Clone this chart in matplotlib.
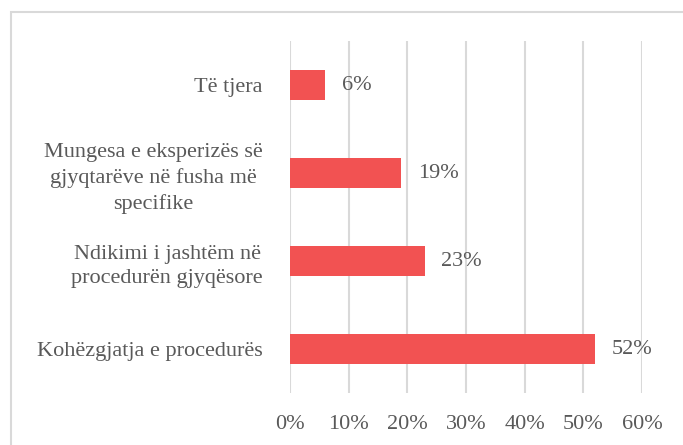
import matplotlib.pyplot as plt
from matplotlib.patches import Rectangle

# Datos del gráfico (de abajo hacia arriba)
categorias = ['Kohëzgjatja e procedurës',
              'Ndikimi i jashtëm në\nprocedurën gjyqësore',
              'Mungesa e eksperizës së\ngjyqtarëve në fusha më\nspecifike',
              'Të tjera']
valores = [0.52, 0.23, 0.19, 0.06]
etiquetas = ['52%', '23%', '19%', '6%']
ticks_x = [0, 0.1, 0.2, 0.3, 0.4, 0.5, 0.6]
ticks_lbl = ['0%', '10%', '20%', '30%', '40%', '50%', '60%']

plt.rcParams['font.family'] = ['Liberation Serif', 'DejaVu Serif']
gris = '#595959'
fs = 16

fig = plt.figure(figsize=(6.83, 4.45), dpi=100)
ax = fig.add_axes([290 / 683, 1 - 393 / 445, 352 / 683, 352 / 445])

# Borde del gráfico (solo visible arriba e izquierda)
fig.patches.append(Rectangle((11 / 683, -0.1), 1.2, 1 - 12 / 445 + 0.1,
                             transform=fig.transFigure, fill=False,
                             edgecolor='#D9D9D9', linewidth=1.5))

y = range(len(categorias))
ax.barh(y, valores, height=0.35, color='#F25252', zorder=3)
for i, (v, t) in enumerate(zip(valores, etiquetas)):
    ax.text(v + 0.028, i, t, va='center', ha='left', fontsize=fs, color=gris)

ax.set_xlim(0, 0.6)
ax.set_ylim(-0.5, 3.5)
ax.set_xticks(ticks_x)
ax.set_xticklabels(ticks_lbl, fontsize=fs, color=gris)
ax.set_yticks(list(y))
ax.set_yticklabels(categorias, fontsize=fs, color=gris,
                   multialignment='center', linespacing=1.4)
ax.tick_params(axis='both', length=0)
ax.tick_params(axis='x', pad=16)
ax.tick_params(axis='y', pad=19.5)
ax.grid(axis='x', color='#D9D9D9', linewidth=1.5, zorder=0)
for s in ax.spines.values():
    s.set_visible(False)

plt.savefig('out.png', dpi=100)
